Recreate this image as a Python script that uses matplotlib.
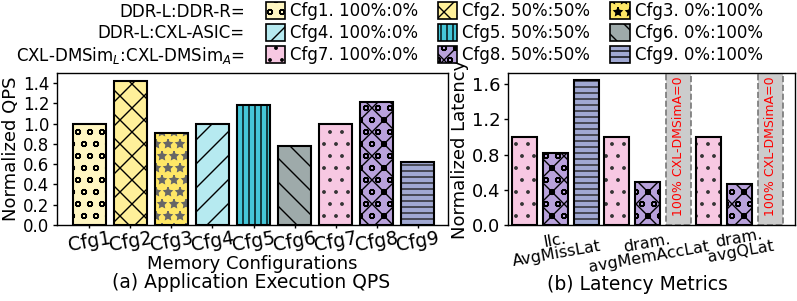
import numpy as np
import matplotlib
matplotlib.use("Agg")
import matplotlib.pyplot as plt
from matplotlib.patches import Patch

# Data
cfgs = ["Cfg1", "Cfg2", "Cfg3", "Cfg4", "Cfg5", "Cfg6", "Cfg7", "Cfg8", "Cfg9"]
qps = [1.00, 1.42, 0.91, 1.00, 1.18, 0.78, 1.00, 1.21, 0.62]
legend_labels = ["Cfg1. 100%:0%", "Cfg2. 50%:50%", "Cfg3. 0%:100%",
                 "Cfg4. 100%:0%", "Cfg5. 50%:50%", "Cfg6. 0%:100%",
                 "Cfg7. 100%:0%", "Cfg8. 50%:50%", "Cfg9. 0%:100%"]
row_labels = ["DDR-L:DDR-R=", "DDR-L:CXL-ASIC=", r"CXL-DMSim$_L$:CXL-DMSim$_A$="]

metrics = ["llc.\nAvgMissLat", "dram.\navgMemAccLat", "dram.\navgQLat"]
lat_cfg7 = [1.00, 1.00, 1.00]
lat_cfg8 = [0.82, 0.49, 0.47]
lat_cfg9 = [1.64, None, None]   # None -> no CXL-DMSimA share
span_text = "100% CXL-DMSimA=0"

colors = ["#fff6c2", "#fff09a", "#ffe766",
          "#b6eaf0", "#45c6d8", "#9eaaaa",
          "#f7c8e2", "#b9a2dc", "#a0a8d2"]
hatches = ["o", "x", "*", "/", "||", "\\", ".", "xo", "--"]
hatch_colors = ["black", "black", "#666666", "black", "black", "black",
                "#333333", "black", "#222222"]

# figure drawn at 72 dpi so hatches come out as dense as in the original
DPI = 72
S = 100 / DPI  # point size factor

plt.rcParams["font.family"] = "DejaVu Sans"
plt.rcParams["hatch.linewidth"] = 1.0 * S
plt.rcParams["axes.linewidth"] = 1.0 * S

fig = plt.figure(figsize=(797 / DPI, 301 / DPI), dpi=DPI)
ax1 = fig.add_axes([57 / 797, 76 / 301, 391 / 797, 152 / 301])
ax2 = fig.add_axes([508 / 797, 76 / 301, 287 / 797, 152 / 301])


def hbar(ax, xpos, h, width, i):
    # hatch layer in its own colour, then a black outline on top
    ax.bar(xpos, h, width=width, color=colors[i], hatch=hatches[i],
           edgecolor=hatch_colors[i], linewidth=0)
    ax.bar(xpos, h, width=width, fill=False, edgecolor="black",
           linewidth=1.5 * S)


# (a) QPS
x = np.arange(len(cfgs))
for i in range(len(cfgs)):
    hbar(ax1, x[i], qps[i], 0.8, i)
ax1.set_xlim(-0.79, 8.74)
ax1.set_ylim(0, 1.5)
ax1.set_yticks(np.arange(0, 1.41, 0.2))
ax1.set_yticklabels([f"{v:.1f}" for v in np.arange(0, 1.41, 0.2)])
ax1.set_xticks(x)
ax1.set_xticklabels(cfgs, fontsize=13.5 * S, rotation=10)
ax1.tick_params(axis="y", labelsize=12 * S, length=3 * S, width=S)
ax1.tick_params(axis="x", length=2 * S, width=S, pad=1 * S)
ax1.set_ylabel("Normalized QPS", fontsize=13 * S, labelpad=2 * S)
ax1.set_xlabel("Memory Configurations", fontsize=13 * S, labelpad=0)

# (b) latency
w = 0.27
step = 0.337
gx = np.arange(len(metrics))
for g in range(len(metrics)):
    hbar(ax2, gx[g] - step, lat_cfg7[g], w, 6)
    hbar(ax2, gx[g], lat_cfg8[g], w, 7)
    if lat_cfg9[g] is not None:
        hbar(ax2, gx[g] + step, lat_cfg9[g], w, 8)
    else:
        cx = gx[g] + step
        ax2.axvspan(cx - w / 2, cx + w / 2, facecolor="#cccccc",
                    edgecolor="#777777", linestyle="--", linewidth=1.2 * S)
        ax2.text(cx, 1.69, span_text, rotation=90, color="red", fontsize=9 * S,
                 ha="center", va="top")
ax2.set_xlim(-0.52, 2.6)
ax2.set_ylim(0, 1.725)
ax2.set_yticks([0.0, 0.4, 0.8, 1.2, 1.6])
ax2.set_yticklabels(["0.0", "0.4", "0.8", "1.2", "1.6"])
ax2.tick_params(axis="y", labelsize=13 * S, length=3 * S, width=S)
ax2.set_xticks(gx)
ax2.set_xticklabels(metrics, fontsize=11.5 * S, linespacing=0.9, rotation=10)
ax2.tick_params(axis="x", length=0, pad=0)
ax2.set_ylabel("Normalized Latency", fontsize=13 * S, labelpad=2 * S)

# captions
fig.text(251 / 797, 1 - 283 / 301, "(a) Application Execution QPS",
         ha="center", va="center", fontsize=13.5 * S)
fig.text(637 / 797, 1 - 284 / 301, "(b) Latency Metrics",
         ha="center", va="center", fontsize=13.5 * S)

# legend
order = [0, 3, 6, 1, 4, 7, 2, 5, 8]
handles = [Patch(facecolor=colors[i], hatch=hatches[i], edgecolor="black",
                 linewidth=1.2 * S) for i in order]
labels = [legend_labels[i] for i in order]
fig.legend(handles, labels, ncol=3, loc="upper left",
           bbox_to_anchor=(266 / 797, 1 - 2 / 301), frameon=False,
           fontsize=12 * S, handlelength=1.15, handleheight=1.15,
           handletextpad=0.3, columnspacing=1.2, labelspacing=0.25,
           borderpad=0, borderaxespad=0)
for r, lab in enumerate(row_labels):
    fig.text(245 / 797, 1 - (12 + 21.5 * r) / 301, lab, ha="right",
             va="center", fontsize=12 * S)

fig.savefig("out.png", dpi=DPI)
